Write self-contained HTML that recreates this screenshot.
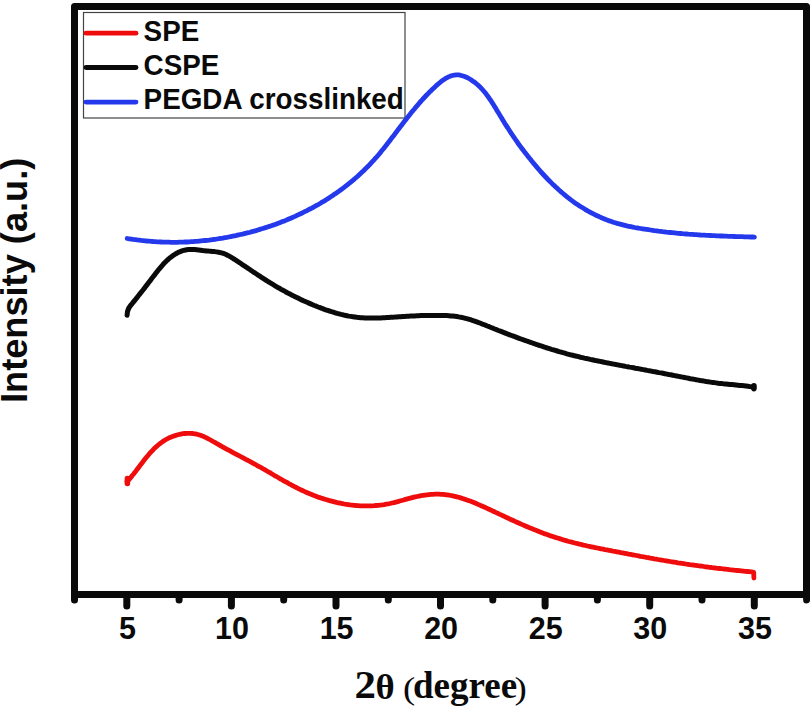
<!DOCTYPE html>
<html><head><meta charset="utf-8"><style>
html,body{margin:0;padding:0;background:#fff;width:810px;height:706px;overflow:hidden}
svg{display:block}
</style></head><body>
<svg width="810" height="706" viewBox="0 0 810 706">
<rect x="0" y="0" width="810" height="706" fill="#fff"/>
<rect x="83.5" y="12.5" width="321.5" height="105.5" fill="#fff" stroke="#444" stroke-width="1.2"/>
<g fill="none" stroke-linecap="round" stroke-linejoin="round" stroke-width="4.8">
<path d="M127.1,481.5 L128.5,480.1 L129.8,478.6 L131.1,477.1 L132.3,475.5 L133.6,474.0 L134.8,472.4 L136.0,470.9 L137.2,469.3 L138.4,467.7 L139.6,466.1 L140.8,464.5 L142.0,463.0 L143.2,461.4 L144.4,459.8 L145.6,458.3 L146.9,456.7 L148.2,455.2 L149.4,453.7 L150.8,452.2 L152.1,450.8 L153.5,449.3 L154.9,447.9 L156.4,446.6 L157.9,445.3 L159.4,444.0 L161.0,442.8 L162.6,441.6 L164.3,440.6 L166.0,439.5 L167.7,438.6 L169.5,437.7 L171.3,436.9 L173.2,436.2 L175.1,435.6 L177.0,435.0 L178.9,434.5 L180.9,434.1 L182.9,433.7 L184.9,433.5 L186.9,433.3 L188.9,433.3 L190.9,433.3 L192.9,433.5 L194.8,433.8 L196.8,434.2 L198.7,434.7 L200.6,435.3 L202.5,436.1 L204.3,436.8 L206.1,437.7 L207.9,438.6 L209.6,439.5 L211.4,440.5 L213.1,441.5 L214.8,442.4 L216.5,443.4 L218.3,444.4 L220.0,445.4 L221.7,446.4 L223.5,447.4 L225.2,448.3 L227.0,449.3 L228.7,450.2 L230.5,451.2 L232.2,452.1 L234.0,453.1 L235.7,454.0 L237.5,454.9 L239.3,455.8 L241.0,456.8 L242.8,457.7 L244.5,458.6 L246.3,459.6 L248.1,460.5 L249.8,461.4 L251.6,462.4 L253.3,463.3 L255.1,464.3 L256.8,465.3 L258.6,466.3 L260.3,467.2 L262.1,468.2 L263.8,469.2 L265.6,470.2 L267.3,471.2 L269.0,472.2 L270.8,473.2 L272.5,474.3 L274.2,475.3 L276.0,476.3 L277.7,477.3 L279.4,478.3 L281.2,479.3 L282.9,480.3 L284.7,481.3 L286.4,482.2 L288.2,483.2 L289.9,484.2 L291.7,485.1 L293.5,486.1 L295.2,487.0 L297.0,487.9 L298.8,488.8 L300.6,489.7 L302.4,490.5 L304.3,491.4 L306.1,492.2 L307.9,493.0 L309.8,493.8 L311.6,494.5 L313.5,495.3 L315.4,496.0 L317.2,496.7 L319.1,497.4 L321.0,498.0 L322.9,498.6 L324.8,499.2 L326.7,499.8 L328.7,500.4 L330.6,500.9 L332.5,501.4 L334.5,501.9 L336.4,502.4 L338.4,502.8 L340.4,503.2 L342.3,503.6 L344.3,504.0 L346.3,504.3 L348.3,504.6 L350.2,504.9 L352.2,505.1 L354.2,505.3 L356.2,505.5 L358.2,505.6 L360.2,505.8 L362.2,505.9 L364.2,505.9 L366.2,505.9 L368.2,505.9 L370.2,505.9 L372.2,505.8 L374.2,505.7 L376.2,505.5 L378.2,505.3 L380.2,505.1 L382.2,504.9 L384.2,504.6 L386.1,504.2 L388.1,503.9 L390.0,503.5 L392.0,503.0 L393.9,502.6 L395.9,502.1 L397.8,501.6 L399.7,501.0 L401.7,500.5 L403.6,500.0 L405.5,499.4 L407.4,498.9 L409.4,498.4 L411.3,497.9 L413.2,497.4 L415.2,496.9 L417.1,496.5 L419.1,496.1 L421.1,495.7 L423.0,495.4 L425.0,495.1 L427.0,494.8 L429.0,494.6 L431.0,494.4 L433.0,494.3 L435.0,494.2 L437.0,494.2 L439.0,494.2 L441.0,494.3 L443.0,494.4 L444.9,494.6 L446.9,494.9 L448.9,495.2 L450.9,495.5 L452.9,495.9 L454.8,496.3 L456.8,496.8 L458.7,497.3 L460.6,497.9 L462.5,498.5 L464.4,499.1 L466.3,499.7 L468.2,500.4 L470.1,501.1 L472.0,501.8 L473.8,502.5 L475.7,503.3 L477.5,504.1 L479.3,504.9 L481.2,505.7 L483.0,506.5 L484.8,507.3 L486.6,508.1 L488.5,509.0 L490.3,509.8 L492.1,510.7 L493.9,511.5 L495.7,512.4 L497.5,513.2 L499.3,514.1 L501.2,514.9 L503.0,515.8 L504.8,516.6 L506.6,517.5 L508.4,518.3 L510.2,519.2 L512.0,520.0 L513.8,520.8 L515.7,521.7 L517.5,522.5 L519.3,523.3 L521.1,524.1 L523.0,524.9 L524.8,525.7 L526.6,526.5 L528.5,527.3 L530.3,528.1 L532.2,528.8 L534.0,529.6 L535.9,530.3 L537.7,531.0 L539.6,531.8 L541.4,532.5 L543.3,533.2 L545.2,533.9 L547.1,534.5 L549.0,535.2 L550.8,535.9 L552.7,536.5 L554.6,537.1 L556.5,537.7 L558.4,538.3 L560.3,538.9 L562.2,539.5 L564.2,540.1 L566.1,540.6 L568.0,541.2 L569.9,541.7 L571.9,542.2 L573.8,542.7 L575.7,543.2 L577.7,543.7 L579.6,544.2 L581.6,544.6 L583.5,545.1 L585.5,545.5 L587.4,546.0 L589.4,546.4 L591.3,546.8 L593.3,547.2 L595.2,547.6 L597.2,548.0 L599.1,548.4 L601.1,548.8 L603.1,549.2 L605.0,549.6 L607.0,549.9 L609.0,550.3 L610.9,550.7 L612.9,551.1 L614.9,551.4 L616.8,551.8 L618.8,552.2 L620.8,552.6 L622.7,552.9 L624.7,553.3 L626.7,553.7 L628.6,554.1 L630.6,554.4 L632.6,554.8 L634.5,555.2 L636.5,555.5 L638.5,555.9 L640.4,556.3 L642.4,556.6 L644.4,557.0 L646.3,557.4 L648.3,557.7 L650.3,558.1 L652.2,558.4 L654.2,558.8 L656.2,559.1 L658.2,559.5 L660.1,559.8 L662.1,560.2 L664.1,560.5 L666.1,560.8 L668.0,561.2 L670.0,561.5 L672.0,561.8 L674.0,562.1 L675.9,562.4 L677.9,562.8 L679.9,563.1 L681.9,563.4 L683.8,563.7 L685.8,564.0 L687.8,564.3 L689.8,564.6 L691.8,564.8 L693.7,565.1 L695.7,565.4 L697.7,565.7 L699.7,566.0 L701.7,566.2 L703.7,566.5 L705.6,566.8 L707.6,567.0 L709.6,567.3 L711.6,567.5 L713.6,567.8 L715.6,568.0 L717.6,568.3 L719.5,568.5 L721.5,568.7 L723.5,569.0 L725.5,569.2 L727.5,569.4 L729.5,569.7 L731.5,569.9 L733.5,570.1 L735.5,570.3 L737.5,570.5 L739.4,570.7 L741.4,570.9 L743.4,571.1 L745.4,571.3 L747.4,571.5 L749.4,571.7 L751.4,571.9 L753.7,572.4 L753.9,578.0" stroke="#ee0c0c"/>
<path d="M127.4,478.5 L127.4,483.5" stroke="#ee0c0c" stroke-width="5.5"/>
<path d="M127.1,315.2 L127.5,311.5 Q128.6,307.6 130.9,305.0 L130.9,305.1 L132.2,303.6 L133.4,302.0 L134.7,300.5 L135.9,298.9 L137.2,297.3 L138.4,295.8 L139.7,294.2 L140.9,292.6 L142.2,291.0 L143.4,289.5 L144.6,287.9 L145.8,286.3 L147.1,284.7 L148.3,283.1 L149.5,281.5 L150.7,279.9 L151.9,278.3 L153.1,276.8 L154.4,275.2 L155.6,273.6 L156.8,272.0 L158.0,270.4 L159.3,268.9 L160.6,267.3 L161.9,265.8 L163.2,264.3 L164.6,262.8 L166.0,261.4 L167.5,260.0 L169.0,258.7 L170.5,257.4 L172.1,256.2 L173.7,255.1 L175.4,254.0 L177.2,253.0 L179.0,252.1 L180.8,251.4 L182.7,250.7 L184.6,250.2 L186.6,249.8 L188.6,249.6 L190.6,249.5 L192.6,249.5 L194.6,249.6 L196.6,249.8 L198.6,250.0 L200.6,250.2 L202.6,250.5 L204.6,250.7 L206.6,250.9 L208.5,251.1 L210.5,251.2 L212.5,251.4 L214.5,251.6 L216.5,251.9 L218.5,252.2 L220.5,252.6 L222.4,253.1 L224.3,253.7 L226.1,254.5 L227.9,255.4 L229.7,256.4 L231.4,257.4 L233.1,258.5 L234.8,259.5 L236.5,260.6 L238.1,261.7 L239.8,262.8 L241.5,264.0 L243.1,265.1 L244.8,266.2 L246.5,267.3 L248.1,268.4 L249.8,269.5 L251.5,270.7 L253.1,271.8 L254.8,272.9 L256.5,274.0 L258.1,275.1 L259.8,276.2 L261.5,277.3 L263.2,278.4 L264.8,279.5 L266.5,280.5 L268.2,281.6 L269.9,282.7 L271.6,283.7 L273.3,284.7 L275.1,285.8 L276.8,286.8 L278.5,287.8 L280.3,288.8 L282.0,289.8 L283.8,290.7 L285.5,291.7 L287.3,292.7 L289.0,293.6 L290.8,294.5 L292.6,295.4 L294.4,296.4 L296.2,297.2 L298.0,298.1 L299.8,299.0 L301.6,299.9 L303.4,300.7 L305.2,301.5 L307.1,302.3 L308.9,303.1 L310.7,303.9 L312.6,304.7 L314.4,305.5 L316.3,306.2 L318.2,307.0 L320.0,307.7 L321.9,308.4 L323.8,309.1 L325.7,309.8 L327.6,310.4 L329.5,311.0 L331.4,311.7 L333.3,312.2 L335.2,312.8 L337.1,313.4 L339.1,313.9 L341.0,314.4 L343.0,314.8 L344.9,315.3 L346.9,315.7 L348.8,316.1 L350.8,316.4 L352.8,316.7 L354.8,317.0 L356.8,317.3 L358.8,317.5 L360.7,317.7 L362.7,317.8 L364.7,317.9 L366.7,318.0 L368.7,318.1 L370.7,318.1 L372.8,318.1 L374.8,318.1 L376.8,318.0 L378.8,318.0 L380.8,317.9 L382.8,317.8 L384.8,317.7 L386.8,317.6 L388.8,317.5 L390.8,317.3 L392.8,317.2 L394.8,317.1 L396.8,316.9 L398.8,316.8 L400.8,316.7 L402.8,316.5 L404.8,316.4 L406.7,316.3 L408.7,316.2 L410.7,316.1 L412.7,316.0 L414.7,315.9 L416.7,315.8 L418.8,315.7 L420.8,315.6 L422.8,315.6 L424.8,315.5 L426.8,315.5 L428.8,315.4 L430.8,315.4 L432.8,315.4 L434.8,315.4 L436.8,315.4 L438.8,315.4 L440.8,315.4 L442.8,315.5 L444.8,315.5 L446.8,315.6 L448.8,315.7 L450.8,315.9 L452.8,316.1 L454.8,316.3 L456.8,316.5 L458.7,316.9 L460.7,317.2 L462.7,317.6 L464.6,318.1 L466.6,318.6 L468.5,319.1 L470.4,319.7 L472.3,320.3 L474.2,321.0 L476.1,321.6 L478.0,322.3 L479.9,323.0 L481.7,323.8 L483.6,324.5 L485.5,325.2 L487.3,326.0 L489.2,326.7 L491.1,327.5 L492.9,328.2 L494.8,329.0 L496.6,329.7 L498.5,330.5 L500.4,331.2 L502.2,331.9 L504.1,332.6 L506.0,333.4 L507.9,334.1 L509.7,334.8 L511.6,335.5 L513.5,336.2 L515.4,336.9 L517.3,337.6 L519.1,338.3 L521.0,339.0 L522.9,339.7 L524.8,340.3 L526.7,341.0 L528.6,341.7 L530.5,342.3 L532.4,343.0 L534.3,343.7 L536.2,344.3 L538.1,345.0 L540.0,345.6 L541.9,346.2 L543.8,346.8 L545.7,347.5 L547.6,348.1 L549.5,348.7 L551.5,349.3 L553.4,349.8 L555.3,350.4 L557.2,351.0 L559.1,351.6 L561.1,352.1 L563.0,352.7 L564.9,353.2 L566.9,353.8 L568.8,354.3 L570.7,354.8 L572.7,355.3 L574.6,355.8 L576.6,356.2 L578.5,356.7 L580.5,357.2 L582.4,357.6 L584.4,358.1 L586.3,358.5 L588.3,358.9 L590.2,359.4 L592.2,359.8 L594.2,360.2 L596.1,360.6 L598.1,361.0 L600.0,361.4 L602.0,361.8 L604.0,362.2 L605.9,362.6 L607.9,363.0 L609.9,363.4 L611.8,363.8 L613.8,364.1 L615.8,364.5 L617.7,364.9 L619.7,365.3 L621.7,365.6 L623.6,366.0 L625.6,366.4 L627.6,366.7 L629.5,367.1 L631.5,367.4 L633.5,367.8 L635.4,368.2 L637.4,368.5 L639.4,368.9 L641.3,369.3 L643.3,369.6 L645.3,370.0 L647.2,370.4 L649.2,370.7 L651.2,371.1 L653.1,371.5 L655.1,371.8 L657.1,372.2 L659.0,372.6 L661.0,372.9 L662.9,373.3 L664.9,373.7 L666.9,374.1 L668.8,374.5 L670.8,374.8 L672.8,375.2 L674.7,375.6 L676.7,376.0 L678.7,376.4 L680.6,376.8 L682.6,377.1 L684.5,377.5 L686.5,377.9 L688.5,378.3 L690.4,378.7 L692.4,379.0 L694.4,379.4 L696.3,379.8 L698.3,380.1 L700.3,380.5 L702.3,380.8 L704.2,381.1 L706.2,381.5 L708.2,381.8 L710.2,382.1 L712.1,382.4 L714.1,382.6 L716.1,382.9 L718.1,383.2 L720.1,383.4 L722.1,383.6 L724.1,383.9 L726.1,384.1 L728.0,384.3 L730.0,384.5 L732.0,384.6 L734.0,384.8 L736.0,385.0 L738.0,385.2 L740.0,385.4 L742.0,385.6 L744.0,385.8 L746.0,386.0 L748.0,386.3 L749.9,386.6 L751.9,386.9 L753.9,387.2" stroke="#0a0a0a" stroke-width="5"/>
<path d="M753.9,385.8 L753.9,388.6" stroke="#0a0a0a" stroke-width="5.6"/>
<path d="M127.2,238.5 L129.2,238.8 L131.2,239.1 L133.2,239.4 L135.2,239.6 L137.2,239.9 L139.1,240.1 L141.1,240.4 L143.1,240.6 L145.1,240.8 L147.1,241.0 L149.1,241.1 L151.1,241.3 L153.1,241.5 L155.1,241.6 L157.1,241.8 L159.1,241.9 L161.1,242.0 L163.1,242.1 L165.1,242.1 L167.1,242.2 L169.1,242.2 L171.1,242.3 L173.1,242.3 L175.1,242.3 L177.2,242.3 L179.2,242.2 L181.2,242.2 L183.2,242.1 L185.2,242.0 L187.2,242.0 L189.2,241.8 L191.2,241.7 L193.2,241.6 L195.1,241.4 L197.1,241.3 L199.1,241.1 L201.1,240.9 L203.1,240.7 L205.1,240.5 L207.1,240.3 L209.1,240.1 L211.1,239.8 L213.0,239.5 L215.0,239.3 L217.0,239.0 L219.0,238.7 L220.9,238.4 L222.9,238.1 L224.9,237.7 L226.8,237.4 L228.8,237.0 L230.7,236.6 L232.7,236.2 L234.7,235.8 L236.6,235.4 L238.6,234.9 L240.5,234.5 L242.4,234.1 L244.4,233.6 L246.3,233.1 L248.3,232.7 L250.2,232.2 L252.1,231.6 L254.1,231.1 L256.0,230.6 L257.9,230.0 L259.8,229.4 L261.8,228.8 L263.7,228.2 L265.6,227.6 L267.5,227.0 L269.4,226.4 L271.3,225.8 L273.2,225.1 L275.1,224.5 L277.0,223.8 L278.9,223.1 L280.8,222.3 L282.6,221.6 L284.5,220.9 L286.4,220.1 L288.2,219.3 L290.1,218.5 L291.9,217.7 L293.8,216.9 L295.6,216.1 L297.4,215.2 L299.3,214.3 L301.1,213.5 L302.9,212.6 L304.7,211.7 L306.5,210.8 L308.2,209.9 L310.0,209.0 L311.8,208.1 L313.6,207.1 L315.3,206.2 L317.1,205.2 L318.8,204.2 L320.5,203.2 L322.2,202.1 L324.0,201.1 L325.7,200.1 L327.4,199.0 L329.0,197.9 L330.7,196.8 L332.4,195.7 L334.0,194.6 L335.7,193.5 L337.3,192.3 L339.0,191.2 L340.6,190.0 L342.2,188.8 L343.8,187.6 L345.4,186.4 L347.0,185.2 L348.5,183.9 L350.1,182.7 L351.6,181.4 L353.2,180.1 L354.7,178.8 L356.2,177.5 L357.7,176.2 L359.2,174.8 L360.6,173.5 L362.1,172.1 L363.6,170.7 L365.0,169.3 L366.4,167.9 L367.8,166.5 L369.2,165.1 L370.6,163.6 L371.9,162.2 L373.3,160.7 L374.6,159.2 L376.0,157.7 L377.3,156.2 L378.6,154.7 L379.9,153.2 L381.1,151.6 L382.4,150.0 L383.7,148.5 L384.9,146.9 L386.2,145.3 L387.4,143.7 L388.7,142.1 L389.9,140.5 L391.1,138.9 L392.3,137.3 L393.6,135.7 L394.8,134.1 L396.0,132.5 L397.2,130.9 L398.4,129.3 L399.6,127.7 L400.9,126.1 L402.1,124.5 L403.3,122.9 L404.5,121.3 L405.8,119.7 L407.0,118.1 L408.3,116.5 L409.5,114.9 L410.8,113.3 L412.0,111.8 L413.3,110.2 L414.6,108.7 L415.9,107.1 L417.2,105.6 L418.5,104.1 L419.8,102.5 L421.2,101.0 L422.5,99.5 L423.9,98.0 L425.3,96.5 L426.7,95.0 L428.1,93.6 L429.5,92.1 L431.0,90.7 L432.4,89.3 L433.9,87.9 L435.4,86.5 L436.9,85.1 L438.4,83.8 L440.0,82.5 L441.6,81.2 L443.2,80.0 L444.9,78.9 L446.7,77.8 L448.5,76.9 L450.4,76.1 L452.3,75.5 L454.3,75.1 L456.3,74.9 L458.3,74.9 L460.2,75.2 L462.1,75.7 L464.0,76.3 L465.8,77.0 L467.6,77.8 L469.3,78.8 L471.0,79.8 L472.6,80.9 L474.2,82.0 L475.8,83.2 L477.3,84.5 L478.7,85.8 L480.1,87.1 L481.5,88.5 L482.8,90.0 L484.1,91.5 L485.4,93.0 L486.6,94.6 L487.8,96.2 L488.9,97.8 L490.0,99.4 L491.2,101.1 L492.2,102.7 L493.3,104.4 L494.3,106.1 L495.4,107.8 L496.4,109.5 L497.4,111.2 L498.5,112.9 L499.5,114.6 L500.5,116.3 L501.6,118.0 L502.6,119.8 L503.7,121.5 L504.7,123.2 L505.8,124.9 L506.9,126.6 L508.0,128.3 L509.1,130.0 L510.2,131.7 L511.3,133.4 L512.4,135.0 L513.5,136.7 L514.7,138.4 L515.8,140.0 L517.0,141.7 L518.1,143.3 L519.3,145.0 L520.5,146.6 L521.7,148.2 L522.9,149.8 L524.1,151.4 L525.4,153.0 L526.6,154.6 L527.9,156.2 L529.1,157.8 L530.4,159.3 L531.7,161.0 L533.0,162.6 L534.3,164.1 L535.6,165.7 L537.0,167.3 L538.3,168.9 L539.7,170.4 L541.0,172.0 L542.4,173.5 L543.8,175.0 L545.2,176.5 L546.6,178.0 L548.0,179.5 L549.5,181.0 L550.9,182.4 L552.4,183.9 L553.9,185.3 L555.4,186.7 L556.9,188.1 L558.4,189.5 L559.9,190.8 L561.4,192.2 L563.0,193.5 L564.6,194.8 L566.1,196.1 L567.7,197.4 L569.3,198.6 L570.9,199.9 L572.6,201.1 L574.2,202.3 L575.8,203.5 L577.5,204.6 L579.2,205.7 L580.9,206.8 L582.6,207.8 L584.3,208.8 L586.0,209.9 L587.7,210.9 L589.5,211.8 L591.3,212.8 L593.0,213.7 L594.8,214.6 L596.6,215.5 L598.4,216.3 L600.2,217.1 L602.1,218.0 L603.9,218.7 L605.8,219.5 L607.7,220.2 L609.5,220.9 L611.4,221.5 L613.3,222.2 L615.2,222.8 L617.1,223.4 L619.1,223.9 L621.0,224.4 L622.9,224.9 L624.9,225.4 L626.8,225.9 L628.8,226.3 L630.8,226.7 L632.7,227.1 L634.7,227.5 L636.7,227.8 L638.6,228.2 L640.6,228.5 L642.6,228.8 L644.6,229.1 L646.6,229.4 L648.5,229.7 L650.5,230.0 L652.5,230.3 L654.5,230.6 L656.5,230.8 L658.5,231.1 L660.5,231.3 L662.5,231.6 L664.4,231.8 L666.4,232.1 L668.4,232.3 L670.4,232.5 L672.4,232.7 L674.4,232.9 L676.4,233.1 L678.4,233.3 L680.4,233.5 L682.4,233.7 L684.4,233.8 L686.4,234.0 L688.4,234.2 L690.4,234.3 L692.4,234.4 L694.4,234.6 L696.4,234.7 L698.4,234.8 L700.4,235.0 L702.4,235.1 L704.4,235.2 L706.4,235.3 L708.4,235.4 L710.4,235.5 L712.4,235.6 L714.4,235.7 L716.4,235.8 L718.4,235.9 L720.4,236.0 L722.4,236.0 L724.4,236.1 L726.4,236.2 L728.4,236.3 L730.4,236.4 L732.4,236.4 L734.4,236.5 L736.4,236.6 L738.4,236.6 L740.4,236.7 L742.4,236.7 L744.4,236.8 L746.4,236.9 L748.4,236.9 L750.4,237.0 L752.4,237.0 L754.4,237.1" stroke="#2438ec"/>
</g>
<g stroke-width="4.8" stroke-linecap="round">
<line x1="86" y1="33.2" x2="136" y2="33.2" stroke="#ee0c0c"/>
<line x1="86" y1="67.5" x2="136" y2="67.5" stroke="#0a0a0a"/>
<line x1="86" y1="102.1" x2="136" y2="102.1" stroke="#2438ec"/>
</g>
<g font-family="Liberation Sans" font-weight="bold" font-size="29" fill="#0a0a0a" transform="translate(143,0) scale(0.96,1) translate(-143,0)">
<text x="143.6" y="40.6">SPE</text>
<text x="143.6" y="75.1">CSPE</text>
<text x="143.6" y="109">PEGDA crosslinked</text>
</g>
<g stroke="#0a0a0a" stroke-width="7" stroke-linecap="round" stroke-linejoin="round" fill="none">
<rect x="74.5" y="6.5" width="732" height="588"/>
<line x1="126.8" y1="595" x2="126.8" y2="606" /><line x1="231.4" y1="595" x2="231.4" y2="606" /><line x1="336.0" y1="595" x2="336.0" y2="606" /><line x1="440.5" y1="595" x2="440.5" y2="606" /><line x1="545.1" y1="595" x2="545.1" y2="606" /><line x1="649.7" y1="595" x2="649.7" y2="606" /><line x1="754.3" y1="595" x2="754.3" y2="606" /><line x1="179.1" y1="595" x2="179.1" y2="600" /><line x1="283.7" y1="595" x2="283.7" y2="600" /><line x1="388.3" y1="595" x2="388.3" y2="600" /><line x1="492.8" y1="595" x2="492.8" y2="600" /><line x1="597.4" y1="595" x2="597.4" y2="600" /><line x1="702.0" y1="595" x2="702.0" y2="600" /><line x1="74.5" y1="595" x2="74.5" y2="600" /><line x1="806.6" y1="595" x2="806.6" y2="600" />
</g>
<g font-family="Liberation Sans" font-weight="bold" font-size="30.5" fill="#0a0a0a" text-anchor="middle">
<text x="127.4" y="638.5">5</text><text x="232.0" y="638.5">10</text><text x="336.6" y="638.5">15</text><text x="441.1" y="638.5">20</text><text x="545.7" y="638.5">25</text><text x="650.3" y="638.5">30</text><text x="754.9" y="638.5">35</text>
</g>
<text transform="translate(26.6,403) rotate(-90)" font-family="Liberation Sans" font-weight="bold" font-size="36.2" fill="#0a0a0a">Intensity (a.u.)</text>
<g font-family="Liberation Serif" fill="#0a0a0a">
<text x="354.5" y="698.4" font-weight="bold" font-size="39" transform="translate(355,0) scale(1.1,1) translate(-355,0)">2</text>
<text x="375.4" y="699.1" font-weight="bold" font-size="36.8">θ</text>
<text x="403.2" y="698.8" font-weight="normal" font-size="32" transform="translate(404,0) scale(1.15,1) translate(-404,0)">(</text>
<text x="413" y="698" font-weight="bold" font-size="37">degree</text>
<text x="514.8" y="698.8" font-weight="normal" font-size="32" transform="translate(516,0) scale(1.15,1) translate(-516,0)">)</text>
</g>
</svg>
</body></html>
